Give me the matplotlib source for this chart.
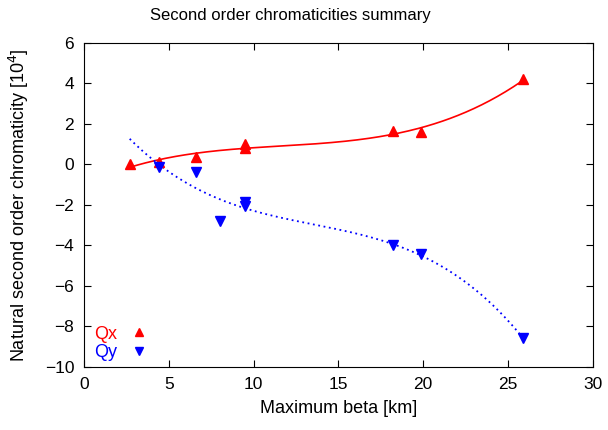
import numpy as np
import matplotlib.pyplot as plt

plt.rcParams['font.family'] = ['Liberation Sans', 'DejaVu Sans']

# maximum beta [km] and measured chromaticities
qx_beta = [2.7, 4.4, 6.6, 9.5, 9.5, 18.2, 19.9, 25.9]
qx_chrom = [0.0, 0.1, 0.35, 0.8, 1.0, 1.65, 1.6, 4.2]
qy_beta = [4.4, 6.6, 8.0, 9.5, 9.5, 18.2, 19.9, 25.9]
qy_chrom = [-0.15, -0.35, -2.8, -1.85, -2.05, -4.0, -4.45, -8.6]

fig = plt.figure(figsize=(6.08, 4.30), dpi=100)
ax = fig.add_axes([0.138, 0.147, 0.837, 0.753])

# cubic fits through the points
xs = np.linspace(2.7, 25.9, 200)
px = np.polyfit(qx_beta, qx_chrom, 3)
py = np.polyfit(qy_beta, qy_chrom, 3)
ax.plot(xs, np.polyval(px, xs), color='red', lw=1.2)
ax.plot(xs, np.polyval(py, xs), color='blue', lw=1.3, ls=(0, (1, 2)))

ax.plot(qx_beta, qx_chrom, '^', color='red', ms=7.5, ls='none', label='Qx')
ax.plot(qy_beta, qy_chrom, 'v', color='blue', ms=7.5, ls='none', label='Qy')

ax.set_xlim(0, 30)
ax.set_ylim(-10, 6)
ax.set_xticks(range(0, 31, 5))
ax.set_yticks(range(-10, 7, 2))
ax.tick_params(direction='in', top=True, right=True, labelsize=12.5, length=5, pad=7)
fig.text(0.477, 0.965, 'Second order chromaticities summary', fontsize=12, ha='center', va='center')
ax.set_xlabel('Maximum beta [km]', fontsize=13, labelpad=6)
ax.set_ylabel('Natural second order chromaticity [10$^4$]', fontsize=13, labelpad=10)

ax.legend(loc='lower left', bbox_to_anchor=(0.01, 0.0), markerfirst=False,
          labelcolor='linecolor', frameon=False, fontsize=13, markerscale=0.8,
          handlelength=1.2, handletextpad=0.6, borderpad=0.1, borderaxespad=0.2,
          labelspacing=0.1)

fig.savefig('out.png', dpi=100)
